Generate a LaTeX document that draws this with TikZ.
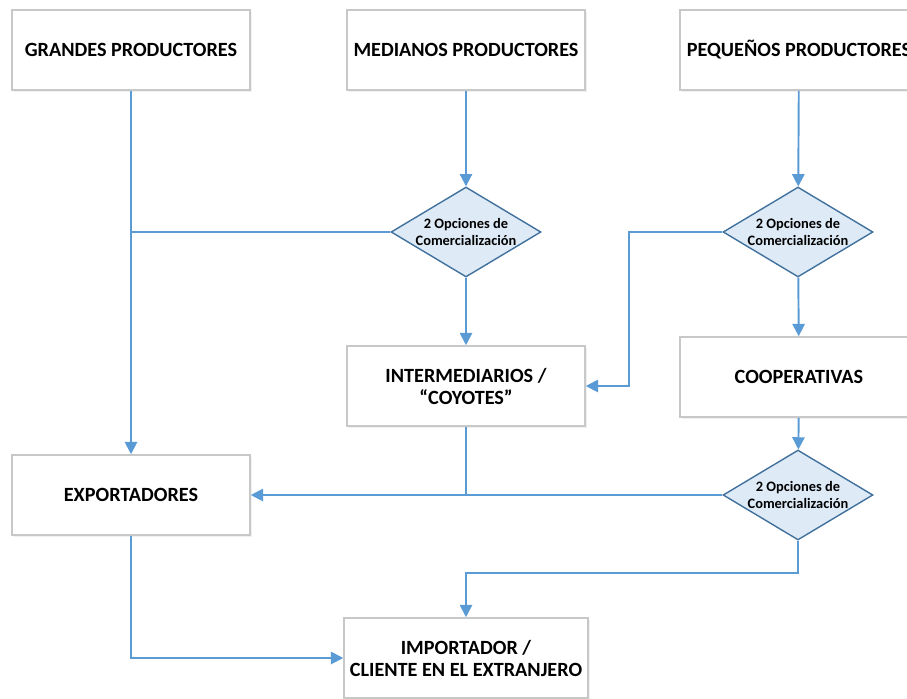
\documentclass[tikz,border=0pt]{standalone}
\usepackage{fontspec}
\setmainfont{Carlito}
\usetikzlibrary{shapes.geometric,arrows.meta,shadows}
\definecolor{lineblue}{HTML}{5B9BD5}
\definecolor{boxgray}{HTML}{C8C8C8}
\definecolor{diafill}{HTML}{DEEBF7}
\definecolor{diaedge}{HTML}{41719C}

\begin{document}
\begin{tikzpicture}[
  x = 0.02cm,
  y = -0.02cm,
  box/.style = {
    shape = rectangle,
    draw = boxgray,
    line width = 0.9pt,
    fill = white,
    minimum width = 4.76cm,
    minimum height = 1.6cm,
    align = center,
    font = \bfseries\fontsize{11.5}{12.5}\selectfont,
    drop shadow = {opacity = 0.12, shadow xshift = 1.2pt, shadow yshift = -1.2pt},
  },
  decision/.style = {
    shape = diamond,
    draw = diaedge,
    fill = diafill,
    line width = 0.8pt,
    aspect = 1.67,
    inner sep = 0pt,
    minimum width = 3cm,
    minimum height = 1.8cm,
    align = center,
    font = \bfseries\fontsize{8.2}{9.6}\selectfont,
  },
  flow/.style = {
    draw = lineblue,
    line width = 1.1pt,
  },
  tip/.style = {
    -{Triangle[width = 7pt, length = 7pt]}
  }
]
  \useasboundingbox (0, 0) rectangle (907, 698);

  \node[box] (grandes) at (131, 50) {GRANDES PRODUCTORES};
  \node[box] (medianos) at (466, 50) {MEDIANOS PRODUCTORES};
  \node[box] (pequenos) at (799, 50) {PEQUEÑOS PRODUCTORES};

  \node[decision] (op1) at (466, 232) {2 Opciones de\\Comercialización};
  \node[decision] (op2) at (798, 232) {2 Opciones de\\Comercialización};

  \node[box] (inter) at (466, 386) {INTERMEDIARIOS /\\“COYOTES”};
  \node[box] (coop) at (799, 377) {COOPERATIVAS};

  \node[box] (export) at (131, 495) {EXPORTADORES};
  \node[decision] (op3) at (798, 495) {2 Opciones de\\Comercialización};

  \node[box] (import) at (466, 658) {IMPORTADOR /\\CLIENTE EN EL EXTRANJERO};

  \draw[flow, tip] (grandes) -- (export);
  \draw[flow, tip] (medianos) -- (op1);
  \draw[flow] (op1.west) -- (op1.west -| grandes.south);
  \draw[flow, tip] (op1) -- (inter);

  \draw[flow, tip] (pequenos) -- (op2);
  \draw[flow, tip] (op2.west) -- ++(-93, 0) |- (inter.east);
  \draw[flow, tip] (op2) -- (coop);
  \draw[flow, tip] (coop) -- (op3);

  \draw[flow, tip] (op3.west) -- (export.east);
  \draw[flow] (inter) -- (inter.south |- op3.west);

  \draw[flow, tip] (op3.south) -- ++(0, 32) -| (import.north);
  \draw[flow, tip] (export.south) |- (import.west);
\end{tikzpicture}
\end{document}
